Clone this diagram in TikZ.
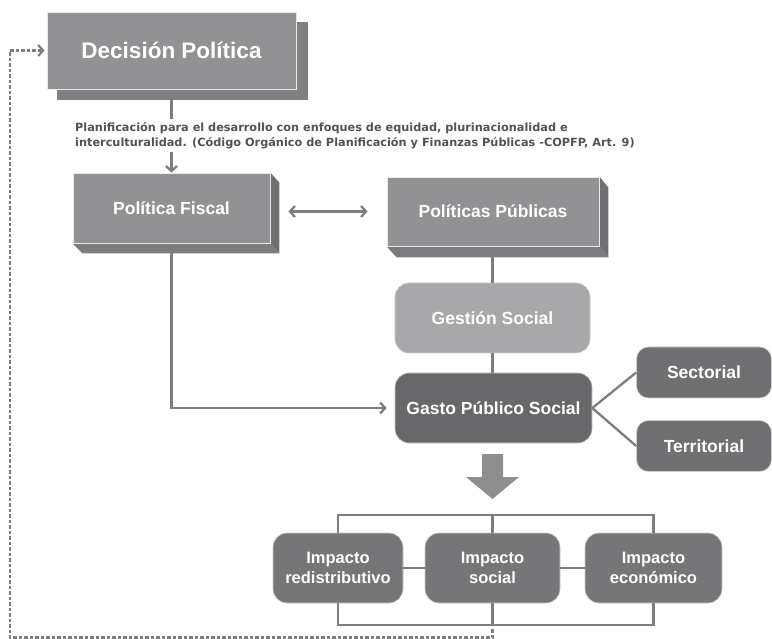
\documentclass[tikz,border=0pt]{standalone}
\usepackage{fontspec}
\setmainfont{Liberation Sans}
\newfontfamily\planfont{DejaVu Sans}
\usetikzlibrary{arrows.meta,calc}
\definecolor{linegray}{RGB}{125,125,127}
\definecolor{frontgray}{RGB}{146,146,149}
\definecolor{shadowgray}{RGB}{128,128,131}
\definecolor{bottomgray}{RGB}{124,124,127}
\definecolor{sidegray}{RGB}{112,112,115}
\definecolor{gsgray}{RGB}{168,168,170}
\definecolor{gpsgray}{RGB}{104,104,106}
\definecolor{secgray}{RGB}{112,112,114}
\definecolor{impgray}{RGB}{118,118,120}
\definecolor{arrgray}{RGB}{142,142,144}
\definecolor{plangray}{RGB}{82,82,84}
\tikzset{
  conn/.style={draw=linegray, line width=2.3pt},
  tip/.style={-{Straight Barb[length=5pt,width=11pt]}},
  dtip/.style={{Straight Barb[length=5pt,width=11pt]}-{Straight Barb[length=5pt,width=11pt]}},
  dashline/.style={draw=linegray, line width=2.2pt, dash pattern=on 3.5pt off 2pt},
  flatbox/.style={rectangle, fill=frontgray, draw=white!80!frontgray, line width=0.8pt,
    text=white, font=\bfseries\fontsize{17.5}{20}\selectfont, inner sep=0pt},
  roundbox/.style={rectangle, rounded corners=14pt, draw=white!60!gray, line width=0.6pt,
    text=white, font=\bfseries\fontsize{17.5}{20}\selectfont, align=center, inner sep=0pt},
  impbox/.style={roundbox, fill=impgray, font=\bfseries\fontsize{16.5}{20}\selectfont},
  sideface/.style={fill=sidegray},
  bottomface/.style={fill=bottomgray},
  plantext/.style={text=plangray, font=\planfont\bfseries\fontsize{11.3}{14.5}\selectfont,
    align=left, inner xsep=0pt, inner ysep=3pt},
}
\begin{document}
\begin{tikzpicture}[x=1pt,y=-1pt]
\useasboundingbox (0,0) rectangle (772,639);
% Decision Politica
\node[rectangle, fill=shadowgray, minimum width=251pt, minimum height=78pt, inner sep=0pt] (dpsh) at (182.5,61) {};
\node[flatbox, minimum width=249pt, minimum height=77pt, font=\bfseries\fontsize{22.5}{26}\selectfont] (dp) at (171.5,50.5) {Decisión Política};
% text
\node[plantext, anchor=north west] (plan) at (75,119.5) {Planificación para el desarrollo con enfoques de equidad, plurinacionalidad e\\interculturalidad. (Código Orgánico de Planificación y Finanzas Públicas -COPFP, Art. 9)};
% Politica Fiscal
\node[flatbox, minimum width=197pt, minimum height=70pt] (pf) at (171.5,208) {Política Fiscal};
\fill[sideface] (pf.north east) -- ++(9,10) -- ($(pf.south east)+(9,10)$) -- (pf.south east) -- cycle;
\fill[bottomface] (pf.south west) -- (pf.south east) -- ++(9,10) -- ($(pf.south west)+(10,10)$) -- cycle;
\draw[white!80!frontgray, line width=0.8pt] (pf.south west) -- (pf.south east) -- (pf.north east);
% Politicas Publicas
\node[flatbox, minimum width=212pt, minimum height=69pt] (pp) at (493,211.5) {Políticas Públicas};
\fill[sideface] (pp.north east) -- ++(9,11) -- ($(pp.south east)+(9,11)$) -- (pp.south east) -- cycle;
\fill[bottomface] (pp.south west) -- (pp.south east) -- ++(9,11) -- ($(pp.south west)+(10,11)$) -- cycle;
\draw[white!80!frontgray, line width=0.8pt] (pp.south west) -- (pp.south east) -- (pp.north east);
\coordinate (ppb) at ($(pp.south)+(0,11)$);
\coordinate (pfb) at ($(pf.south)+(0,10)$);
% Gestion, Gasto
\node[roundbox, fill=gsgray, minimum width=195pt, minimum height=70pt] (gs) at (492.5,318) {Gestión Social};
\node[roundbox, fill=gpsgray, minimum width=197pt, minimum height=70pt] (gps) at (493.5,408) {Gasto Público Social};
\node[roundbox, fill=secgray, rounded corners=12pt, minimum width=135pt, minimum height=51pt] (sec) at (704,372.5) {Sectorial};
\node[roundbox, fill=secgray, rounded corners=12pt, minimum width=135pt, minimum height=51pt] (ter) at (704,446) {Territorial};
% impacts
\node[impbox, minimum width=130pt, minimum height=70pt] (i1) at (338,568) {Impacto\\redistributivo};
\node[impbox, minimum width=135pt, minimum height=70pt] (i2) at (492.5,568) {Impacto\\social};
\node[impbox, minimum width=137pt, minimum height=70pt] (i3) at (653.5,568) {Impacto\\económico};
% big arrow
\fill[arrgray] (482,454) -- (503,454) -- (503,477) -- (519,477) -- (492.5,499) -- (466,477) -- (482,477) -- cycle;
% connectors
\draw[conn] (dpsh.south -| dp.south) -- (plan.north -| dp.south);
\draw[conn,tip] (plan.south -| dp.south) -- (pf.north -| dp.south);
\draw[conn,dtip,shorten <=18pt,shorten >=19pt] (pf.east |- pp.west) -- (pp.west);
\draw[conn] (ppb) -- (gs.north |- ppb) -- (gs.north);
\draw[conn] (gs.south) -- (gps.north -| gs.south);
\draw[conn,tip,shorten >=8pt] (pfb) |- (gps.west);
\draw[conn] (gps.east) -- (sec.west);
\draw[conn] (gps.east) -- (ter.west);
\draw[conn] (i1.north) -- ++(0,-18) -| (i3.north);
\draw[conn] (i2.north) -- ++(0,-18);
\draw[conn] (i1.east) -- (i2.west);
\draw[conn] (i2.east) -- (i3.west);
\draw[conn] (i1.south) -- ++(0,22) -| (i3.south);
\draw[conn] (i2.south) -- ++(0,22);
\coordinate (dstart) at ($(i2.south)+(0,26)$);
\coordinate (dcorner) at (10,637.5);
\draw[dashline,tip,shorten >=2pt] (dstart) |- (dcorner) |- (dp.west);
\end{tikzpicture}
\end{document}
